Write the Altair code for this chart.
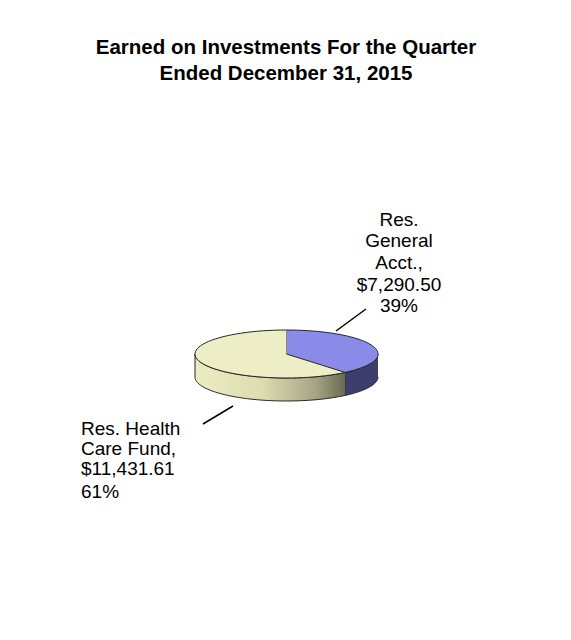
import altair as alt
import pandas as pd

# ---- data ----
categories = ["Res. General Acct.", "Res. Health Care Fund"]
values = [7290.50, 11431.61]
label_names = [["Res.", "General", "Acct.,"], ["Res. Health", "Care Fund,"]]
title_lines = ["Earned on Investments For the Quarter", "Ended December 31, 2015"]

total = sum(values)
amounts = [f"${v:,.2f}" for v in values]
pcts = [f"{round(100 * v / total)}%" for v in values]

df = pd.DataFrame({"cat": categories, "value": values, "k": list(range(len(values)))})
lab_df = pd.DataFrame({
    "cat": categories,
    "main": ["\n".join(n + [a]) for n, a in zip(label_names, amounts)],
    "full": ["\n".join(n + [a, p]) for n, a, p in zip(label_names, amounts, pcts)],
    "pct": pcts,
})
title_df = pd.DataFrame({"t": ["\n".join(title_lines)]})

# ---- layout (page pixels) ----
CX, CY, RX, RY, D = 286.5, 354.0, 91.5, 24.0, 23.0
N = 60
FONT = "Liberation Sans, Arial, sans-serif"
OUT = "#262626"
LFS = 19

x_scale = alt.Scale(domain=[8, 563], nice=False, zero=False)
y_scale = alt.Scale(domain=[8, 632], nice=False, zero=False, reverse=True)
colors = alt.Scale(domain=categories, range=["#8a8ae8", "#eeeec6"])


def P(v):
    return v - 8


base = alt.Chart(df).transform_joinaggregate(
    total="sum(value)"
).transform_window(
    cum="sum(value)", sort=[alt.SortField("k")], frame=[None, 0]
).transform_calculate(
    t1="2*PI*datum.cum/datum.total",
    t0="2*PI*(datum.cum-datum.value)/datum.total",
)

enc = dict(
    x=alt.X("px:Q", scale=x_scale, axis=None),
    y=alt.Y("py:Q", scale=y_scale, axis=None),
    order=alt.Order("i:Q"),
    detail="cat:N",
)

# side walls (front half of the disc)
side = base.transform_calculate(
    s0="max(datum.t0, PI/2)", s1="min(datum.t1, 3*PI/2)"
).transform_filter("datum.s1 > datum.s0").transform_calculate(
    arr=f"sequence(0, {2 * N + 2})"
).transform_flatten(["arr"], as_=["i"]).transform_calculate(
    a=f"datum.i <= {N} ? datum.s0 + (datum.s1-datum.s0)*datum.i/{N} : datum.s1 - (datum.s1-datum.s0)*(datum.i-{N + 1})/{N}"
).transform_calculate(
    px=f"{CX} + {RX}*sin(datum.a)",
    py=f"{CY} - {RY}*cos(datum.a) + (datum.i <= {N} ? 0 : {D})",
)

side_blue = side.transform_filter(alt.datum.cat == categories[0]).mark_line(
    fill="#3e3e6e", stroke=OUT, strokeWidth=1, strokeJoin="round"
).encode(**enc)

side_yellow = side.transform_filter(alt.datum.cat == categories[1]).mark_line(
    fill={
        "gradient": "linear", "x1": 0, "x2": 1, "y1": 0, "y2": 0,
        "stops": [
            {"offset": 0, "color": "#ececc2"},
            {"offset": 0.45, "color": "#dcdcb0"},
            {"offset": 0.8, "color": "#a6a685"},
            {"offset": 1, "color": "#6a6a4e"},
        ],
    },
    stroke=OUT, strokeWidth=1, strokeJoin="round",
).encode(**enc)

# top faces
top = base.transform_calculate(
    arr=f"sequence(-1, {N + 1})"
).transform_flatten(["arr"], as_=["i"]).transform_calculate(
    a=f"datum.t0 + (datum.t1-datum.t0)*max(datum.i,0)/{N}"
).transform_calculate(
    px=f"datum.i < 0 ? {CX} : {CX} + {RX}*sin(datum.a)",
    py=f"datum.i < 0 ? {CY} : {CY} - {RY}*cos(datum.a)",
).mark_line(filled=True, stroke=OUT, strokeWidth=1, strokeJoin="round").encode(
    **enc,
    color=alt.Color("cat:N", scale=colors, legend=None),
)

# leader lines
lead = alt.Chart(lab_df)
lead1 = lead.transform_filter(alt.datum.cat == categories[0]).mark_rule(
    color="black", strokeWidth=1.5
).encode(x=alt.value(P(336)), y=alt.value(P(331)), x2=alt.value(P(366)), y2=alt.value(P(309)))
lead2 = lead.transform_filter(alt.datum.cat == categories[1]).mark_rule(
    color="black", strokeWidth=1.5
).encode(x=alt.value(P(203)), y=alt.value(P(424)), x2=alt.value(P(233)), y2=alt.value(P(406)))

# labels
lab1 = alt.Chart(lab_df).transform_filter(alt.datum.cat == categories[0]).mark_text(
    font=FONT, fontSize=LFS, color="black", align="center", baseline="alphabetic",
    lineBreak="\n", lineHeight=21.7,
).encode(x=alt.value(P(399)), y=alt.value(P(225.5)), text="full:N")

lab2 = alt.Chart(lab_df).transform_filter(alt.datum.cat == categories[1]).mark_text(
    font=FONT, fontSize=LFS, color="black", align="left", baseline="alphabetic",
    lineBreak="\n", lineHeight=20,
).encode(x=alt.value(P(81)), y=alt.value(P(435)), text="main:N")

lab2p = alt.Chart(lab_df).transform_filter(alt.datum.cat == categories[1]).mark_text(
    font=FONT, fontSize=LFS, color="black", align="left", baseline="alphabetic",
).encode(x=alt.value(P(81)), y=alt.value(P(498)), text="pct:N")

title = alt.Chart(title_df).mark_text(
    font=FONT, fontSize=20.5, fontWeight="bold", color="black", align="center",
    baseline="alphabetic", lineBreak="\n", lineHeight=26,
).encode(x=alt.value(P(286)), y=alt.value(P(54)), text="t:N")

chart = alt.layer(
    side_blue, side_yellow, top, lead1, lead2, lab1, lab2, lab2p, title
).properties(
    width=555, height=624, padding=0, autosize="none"
).configure_view(stroke=None)

chart.save("out.html", embed_options={"renderer": "svg", "actions": False})
